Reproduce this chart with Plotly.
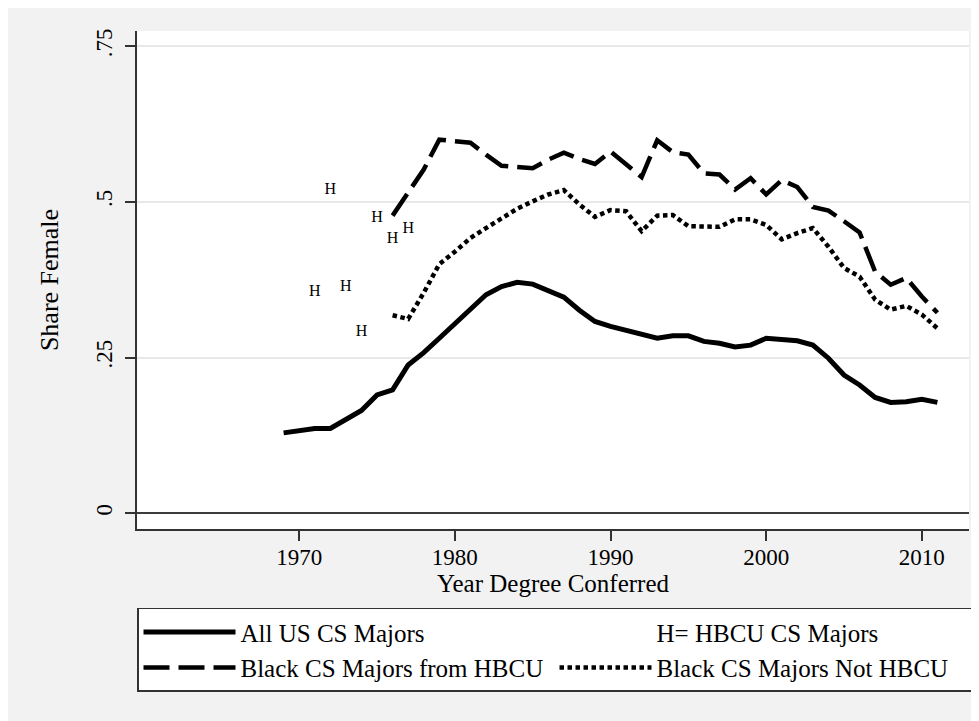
import plotly.graph_objects as go

# ---- data ----
years_all = list(range(1969, 2012))
share_all_us = [0.129, 0.132, 0.136, 0.136, 0.150, 0.165, 0.190, 0.198, 0.238, 0.258,
                0.281, 0.305, 0.328, 0.351, 0.364, 0.371, 0.368, 0.358, 0.347, 0.326,
                0.308, 0.300, 0.294, 0.287, 0.281, 0.285, 0.285, 0.276, 0.273, 0.267,
                0.270, 0.281, 0.278, 0.277, 0.270, 0.249, 0.222, 0.206, 0.186, 0.178,
                0.179, 0.183, 0.178]

years_black = list(range(1976, 2012))
share_black_hbcu = [0.478, 0.514, 0.552, 0.600, 0.598, 0.595, 0.576, 0.558, 0.556, 0.554,
                    0.568, 0.579, 0.569, 0.561, 0.581, 0.560, 0.540, 0.599, 0.580, 0.576,
                    0.546, 0.544, 0.520, 0.538, 0.512, 0.535, 0.524, 0.492, 0.486, 0.469,
                    0.451, 0.388, 0.367, 0.378, 0.348, 0.322]
share_black_not_hbcu = [0.318, 0.312, 0.354, 0.400, 0.420, 0.442, 0.458, 0.474, 0.489, 0.501,
                        0.512, 0.519, 0.496, 0.476, 0.487, 0.485, 0.453, 0.478, 0.479, 0.461,
                        0.461, 0.460, 0.472, 0.472, 0.463, 0.440, 0.450, 0.458, 0.428, 0.394,
                        0.380, 0.343, 0.327, 0.333, 0.319, 0.297]

years_h = [1971, 1972, 1973, 1974, 1975, 1976, 1977]
share_h = [0.355, 0.519, 0.364, 0.291, 0.474, 0.441, 0.457]

x_ticks = [1970, 1980, 1990, 2000, 2010]
y_ticks = [0, 0.25, 0.5, 0.75]
y_tick_labels = ["0", ".25", ".5", ".75"]

FONT = "Liberation Serif, Times New Roman, serif"

fig = go.Figure()
fig.add_trace(go.Scatter(x=years_all, y=share_all_us, mode="lines",
                         name="All US CS Majors",
                         line=dict(color="black", width=5)))
fig.add_trace(go.Scatter(x=[None], y=[None], mode="lines",
                         name="H= HBCU CS Majors",
                         line=dict(color="rgba(0,0,0,0)", width=0)))
fig.add_trace(go.Scatter(x=years_black, y=share_black_hbcu, mode="lines",
                         name="Black CS Majors from HBCU",
                         line=dict(color="black", width=4.5, dash="26px,9px")))
fig.add_trace(go.Scatter(x=years_black, y=share_black_not_hbcu, mode="lines",
                         name="Black CS Majors Not HBCU",
                         line=dict(color="black", width=4.5, dash="4.5px,3.5px")))
fig.add_trace(go.Scatter(x=years_h, y=share_h, mode="text", text=["H"] * len(years_h),
                         textfont=dict(family=FONT, size=16, color="black"),
                         showlegend=False, hoverinfo="skip"))

fig.update_layout(
    width=971, height=713,
    margin=dict(l=129, r=10, t=23, b=192),
    paper_bgcolor="#f2f2f2", plot_bgcolor="white",
    font=dict(family=FONT, size=23, color="black"),
    showlegend=True,
    legend=dict(orientation="h", x=0, xanchor="left", y=-0.158, yanchor="top",
                bgcolor="white", bordercolor="#333333", borderwidth=1.5,
                font=dict(family=FONT, size=25, color="black"),
                entrywidth=0.5, entrywidthmode="fraction", itemwidth=92,
                traceorder="normal"),
    xaxis=dict(range=[1959.58, 2013.03], tickvals=x_ticks, showgrid=False,
               zeroline=False, showline=True, linecolor="#333333", linewidth=1.5,
               ticks="outside", ticklen=10, tickwidth=1.5, tickcolor="#333333",
               tickfont=dict(size=23), ticklabelstandoff=-3,
               title=dict(text="Year Degree Conferred", font=dict(size=25), standoff=0)),
    yaxis=dict(range=[-0.0254, 0.7746], tickvals=y_ticks, ticktext=y_tick_labels,
               tickangle=-90, showgrid=True, gridcolor="#e8e8e8", gridwidth=2,
               zeroline=True, zerolinecolor="#3c3c3c", zerolinewidth=1.5,
               showline=True, linecolor="#333333", linewidth=1.5,
               ticks="outside", ticklen=10, tickwidth=1.5, tickcolor="#333333",
               tickfont=dict(size=23), ticklabelstandoff=4,
               title=dict(text="Share Female", font=dict(size=26), standoff=26)),
)

fig.write_html("out.html")
